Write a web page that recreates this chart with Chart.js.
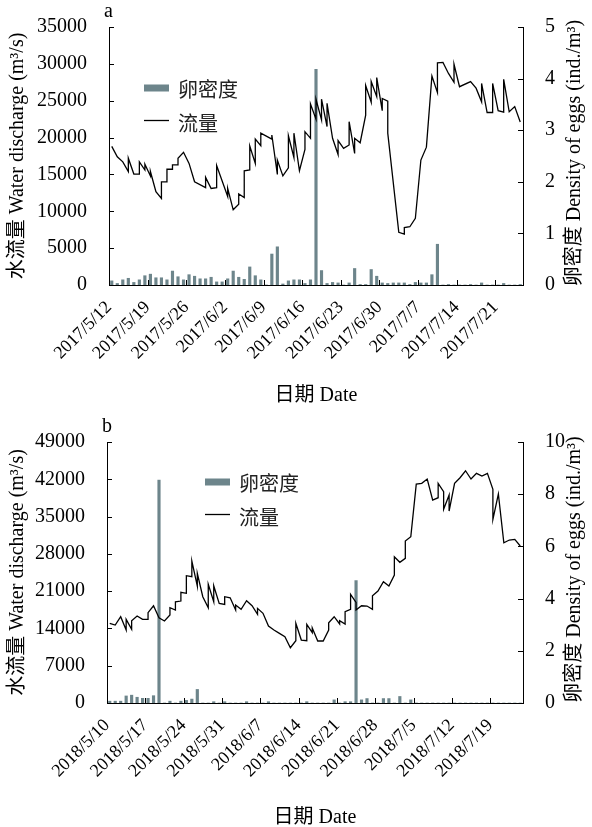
<!DOCTYPE html>
<html>
<head>
<meta charset="utf-8">
<script src="https://cdn.jsdelivr.net/npm/chart.js@4.4.0/dist/chart.umd.min.js"></script>
<style>
  html, body { margin: 0; padding: 0; background: #fff; }
  .panel { position: absolute; left: 0; width: 592px; height: 412px; }
  #panelA { top: 0; }
  #panelB { top: 415px; }
  canvas { display: block; }
</style>
</head>
<body>
<div class="panel" id="panelA"><canvas id="chartA" width="592" height="412"></canvas></div>
<div class="panel" id="panelB"><canvas id="chartB" width="592" height="412"></canvas></div>
<script>
// ---- 2017 (a) ----
const tickLabelsA = ['2017/5/12', '2017/5/19', '2017/5/26', '2017/6/2', '2017/6/9', '2017/6/16',
    '2017/6/23', '2017/6/30', '2017/7/7', '2017/7/14', '2017/7/21'];
// day index since 2017/5/12 for each discharge reading (some days have two readings)
const flowDayA = [
    0, 1, 2, 3, 3, 4, 5, 5, 6, 6,
    7, 7, 8, 9, 9, 10, 10, 11, 11, 12,
    12, 13, 14, 15, 17, 17, 18, 19, 19, 21,
    21, 22, 23, 23, 24, 24, 25, 25, 26, 26,
    27, 27, 29, 29, 30, 30, 31, 32, 32, 33,
    33, 34, 35, 35, 36, 36, 37, 37, 38, 38,
    39, 39, 40, 41, 41, 42, 43, 43, 44, 44,
    45, 46, 46, 47, 47, 48, 48, 49, 49, 50,
    50, 52, 53, 53, 54, 55, 56, 57, 58, 59,
    59, 60, 61, 62, 62, 63, 65, 66, 67, 67,
    68, 69, 69, 70, 71, 71, 72, 73, 74
];
const flowA = [
    18800, 17400, 16700, 15400, 17200, 15050, 15050, 16700, 15600, 16400,
    14800, 15400, 12650, 11750, 14000, 14000, 15700, 15700, 16300, 16300,
    17200, 18000, 16500, 14000, 13200, 14600, 13100, 13200, 16200, 12000,
    13100, 10200, 10950, 12350, 11850, 15500, 15600, 18850, 16500, 19800,
    18900, 20600, 19800, 20350, 15000, 16950, 14800, 15900, 20250, 17300,
    20600, 15500, 18400, 20800, 19900, 24550, 22500, 25200, 22400, 25200,
    21500, 24650, 19900, 17700, 19600, 18550, 19000, 22150, 17850, 19900,
    19300, 23050, 27050, 24800, 27600, 25550, 28150, 23650, 25300, 24950,
    20600, 7150, 6900, 7800, 7900, 9050, 16950, 18700, 28350, 26100,
    30150, 30200, 28700, 27500, 29950, 26900, 27600, 26700, 24850, 27350,
    23400, 23400, 27350, 23650, 23450, 27900, 23500, 24200, 22100
];
// egg density per day (ind./m3), 2017/5/12 .. 2017/7/25
const eggsA = [
    0.08, 0.03, 0.1, 0.13, 0.05, 0.1, 0.18, 0.21, 0.14, 0.14,
    0.1, 0.27, 0.16, 0.1, 0.2, 0.17, 0.12, 0.12, 0.15, 0.06,
    0.06, 0.12, 0.27, 0.15, 0.11, 0.35, 0.18, 0.1, 0, 0.6,
    0.74, 0.02, 0.08, 0.1, 0.1, 0.03, 0.1, 4.18, 0.28, 0.03,
    0.05, 0.04, 0, 0.04, 0.32, 0.01, 0.01, 0.3, 0.17, 0.04,
    0.03, 0.04, 0.04, 0.04, 0.01, 0.05, 0.04, 0.04, 0.2, 0.79,
    0, 0.01, 0, 0, 0, 0.01, 0, 0.04, 0, 0,
    0, 0.03, 0, 0, 0.01
];

// ---- 2018 (b) ----
const tickLabelsB = ['2018/5/10', '2018/5/17', '2018/5/24', '2018/5/31', '2018/6/7', '2018/6/14',
    '2018/6/21', '2018/6/28', '2018/7/5', '2018/7/12', '2018/7/19'];
const flowDayB = [
    0, 1, 2, 3, 3, 4, 4, 5, 6, 7,
    7, 8, 9, 10, 11, 11, 12, 12, 13, 13,
    14, 14, 15, 15, 16, 16, 17, 18, 18, 19,
    19, 20, 21, 21, 22, 23, 23, 24, 25, 26,
    27, 27, 28, 29, 30, 31, 32, 33, 34, 34,
    35, 36, 36, 37, 37, 38, 39, 40, 40, 41,
    42, 42, 43, 43, 44, 44, 45, 45, 46, 47,
    48, 48, 49, 50, 51, 52, 52, 53, 54, 54,
    55, 56, 57, 58, 59, 60, 60, 61, 61, 62,
    62, 63, 64, 65, 66, 67, 68, 69, 70, 70,
    71, 72, 73, 74, 75
];
const flowB = [
    14960, 14640, 16200, 13700, 15700, 13830, 15450, 16330, 15700, 15700,
    16950, 18260, 16010, 15390, 16520, 17890, 17460, 19010, 19140, 20780,
    20590, 23900, 23710, 26650, 21960, 24340, 19950, 17890, 22280, 19010,
    22020, 18710, 18520, 19950, 19760, 17460, 18400, 17590, 19200, 18260,
    16650, 17770, 16840, 14450, 13700, 13080, 12450, 10380, 11690, 14960,
    11820, 11690, 14770, 13200, 14100, 11640, 11640, 13700, 15070, 16200,
    14830, 15450, 14830, 17140, 17590, 20400, 18900, 17460, 18260, 18200,
    17590, 20140, 21020, 22770, 21960, 24030, 27460, 26410, 27160, 30410,
    31210, 41100, 41240, 42040, 38100, 38540, 41240, 39660, 36360, 39040,
    36040, 41240, 42290, 43600, 42040, 43110, 42600, 43110, 40110, 34480,
    39230, 30090, 30600, 30720, 29470
];
const eggsB = [
    0.07, 0.07, 0.07, 0.27, 0.3, 0.22, 0.18, 0.18, 0.28, 8.54,
    0, 0.07, 0, 0.07, 0.1, 0.15, 0.52, 0, 0, 0.05,
    0, 0.05, 0, 0, 0, 0.05, 0, 0, 0, 0.05,
    0, 0, 0, 0, 0, 0, 0.05, 0, 0, 0,
    0, 0.12, 0, 0.05, 0.05, 4.69, 0.12, 0.17, 0, 0,
    0.17, 0.17, 0, 0.25, 0, 0.12, 0, 0, 0, 0,
    0, 0, 0, 0, 0, 0, 0, 0, 0, 0,
    0, 0, 0, 0, 0, 0
];

const SERIF = '"Liberation Serif", "Noto Sans CJK SC", serif';
const BAR_COLOR = '#6d858b';

// inward tick marks, axis titles, panel letter and in-plot legend
const decorPlugin = {
    id: 'decor',
    afterDraw(chart, args, opts) {
        const { ctx, chartArea: a, scales } = chart;
        ctx.save();
        ctx.strokeStyle = '#000';
        ctx.lineWidth = 1;
        ctx.beginPath();
        scales.x.ticks.forEach(t => {
            const px = Math.round(scales.x.getPixelForValue(t.value)) + 0.5;
            ctx.moveTo(px, a.bottom);
            ctx.lineTo(px, a.bottom - 5);
        });
        scales.y.ticks.forEach(t => {
            const py = Math.round(scales.y.getPixelForValue(t.value)) + 0.5;
            ctx.moveTo(a.left, py);
            ctx.lineTo(a.left + 5, py);
        });
        scales.y1.ticks.forEach(t => {
            const py = Math.round(scales.y1.getPixelForValue(t.value)) + 0.5;
            ctx.moveTo(a.right, py);
            ctx.lineTo(a.right - 5, py);
        });
        ctx.stroke();

        ctx.fillStyle = '#000';
        ctx.font = '20px ' + SERIF;
        ctx.textBaseline = 'middle';
        ctx.textAlign = 'left';
        ctx.fillText(opts.panel, a.left - 5, a.top - 15);

        ctx.textAlign = 'center';
        ctx.fillText('日期 Date', (a.left + a.right) / 2, a.bottom + opts.xTitleGap);

        const cy = (a.top + a.bottom) / 2;
        ctx.save();
        ctx.translate(18, cy);
        ctx.rotate(-Math.PI / 2);
        ctx.fillText('水流量 Water discharge (m³/s)', 0, 0);
        ctx.restore();
        ctx.save();
        ctx.translate(575, cy - 3);
        ctx.rotate(-Math.PI / 2);
        ctx.fillText('卵密度 Density of eggs (ind./m³)', 0, 0);
        ctx.restore();

        // legend
        const lx = a.left + opts.legendX;
        const ly = a.top + opts.legendY;
        ctx.fillStyle = BAR_COLOR;
        ctx.fillRect(lx, ly - 3.5, 25, 7);
        ctx.beginPath();
        ctx.moveTo(lx, ly + 32.5);
        ctx.lineTo(lx + 25, ly + 32.5);
        ctx.lineWidth = 1.3;
        ctx.stroke();
        ctx.fillStyle = '#222';
        ctx.textAlign = 'left';
        ctx.font = '20px "Noto Sans CJK SC", sans-serif';
        ctx.fillText('卵密度', lx + 34, ly + 1);
        ctx.fillText('流量', lx + 34, ly + 35);
        ctx.restore();
    }
};

function makeChart(canvasId, cfg) {
    const ctx = document.getElementById(canvasId).getContext('2d');
    const tickFont = { family: SERIF, size: 20 };
    return new Chart(ctx, {
        type: 'bar',
        data: {
            datasets: [
                {
                    type: 'line',
                    label: '流量',
                    data: cfg.flowDay.map((d, i) => ({ x: d + 0.5, y: cfg.flow[i] })),
                    borderColor: '#000',
                    borderWidth: 1.3,
                    pointRadius: 0,
                    tension: 0,
                    yAxisID: 'y',
                    order: 0
                },
                {
                    type: 'bar',
                    label: '卵密度',
                    data: cfg.eggs.map((v, i) => ({ x: i + 0.5, y: v })),
                    backgroundColor: BAR_COLOR,
                    barThickness: 2.5,
                    yAxisID: 'y1',
                    order: 1
                }
            ]
        },
        options: {
            responsive: false,
            animation: false,
            devicePixelRatio: 1,
            layout: { padding: { top: 27, left: 0, right: 0, bottom: 0 } },
            scales: {
                x: {
                    type: 'linear',
                    min: 0,
                    max: cfg.xMax,
                    offset: false,
                    grid: { display: false, offset: false },
                    border: { display: true, color: '#000', width: 1 },
                    ticks: {
                        stepSize: 7,
                        includeBounds: false,
                        autoSkip: false,
                        minRotation: 45,
                        maxRotation: 45,
                        padding: 4,
                        color: '#000',
                        font: { family: SERIF, size: 18 },
                        callback: v => cfg.tickLabels[v / 7]
                    },
                    afterFit: s => { s.height = cfg.xHeight; }
                },
                y: {
                    position: 'left',
                    min: 0,
                    max: cfg.yMax,
                    grid: { display: false },
                    border: { display: true, color: '#000', width: 1 },
                    ticks: { stepSize: cfg.yStep, padding: 14, color: '#000', font: tickFont, callback: v => String(v) },
                    afterFit: s => { s.width = cfg.leftWidth; }
                },
                y1: {
                    position: 'right',
                    min: 0,
                    max: cfg.y1Max,
                    grid: { display: false },
                    border: { display: true, color: '#000', width: 1 },
                    ticks: { stepSize: cfg.y1Step, padding: 14, color: '#000', font: tickFont, callback: v => String(v) },
                    afterFit: s => { s.width = 69; }
                }
            },
            plugins: {
                legend: { display: false },
                tooltip: { enabled: false },
                decor: cfg.decor
            }
        },
        plugins: [decorPlugin]
    });
}

makeChart('chartA', {
    flowDay: flowDayA, flow: flowA, eggs: eggsA, tickLabels: tickLabelsA,
    xMax: 75, yMax: 35000, yStep: 5000, y1Max: 5, y1Step: 1,
    leftWidth: 109, xHeight: 127,
    decor: { panel: 'a', xTitleGap: 111, legendX: 35, legendY: 61 }
});

makeChart('chartB', {
    flowDay: flowDayB, flow: flowB, eggs: eggsB, tickLabels: tickLabelsB,
    xMax: 76, yMax: 49000, yStep: 7000, y1Max: 10, y1Step: 2,
    leftWidth: 107, xHeight: 124,
    decor: { panel: 'b', xTitleGap: 115, legendX: 98, legendY: 40 }
});
</script>
</body>
</html>
